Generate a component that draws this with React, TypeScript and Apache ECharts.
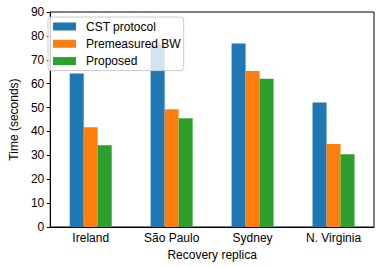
import React, { useEffect, useRef } from "react";
import * as echarts from "echarts";

const categories = ["Ireland", "São Paulo", "Sydney", "N. Virginia"];
const seriesNames = ["CST protocol", "Premeasured BW", "Proposed"];
const cstValues = [64.3, 76.2, 76.8, 52.1];
const premeasuredValues = [41.8, 49.3, 65.3, 34.7];
const proposedValues = [34.2, 45.5, 62.1, 30.5];
const colors = ["#1f77b4", "#ff7f0e", "#2ca02c"];

const FONT = "'Liberation Sans', Arial, sans-serif";

export default function App() {
  const ref = useRef<HTMLDivElement>(null);
  useEffect(() => {
    if (!ref.current) return;
    const chart = echarts.init(ref.current, null, { renderer: "svg" });
    const data = [cstValues, premeasuredValues, proposedValues];
    chart.setOption({
      animation: false,
      backgroundColor: "#ffffff",
      textStyle: { fontFamily: FONT },
      grid: {
        left: 42,
        right: 7,
        top: 12,
        bottom: 40,
        show: true,
        borderColor: "#000",
        borderWidth: 1,
        backgroundColor: "transparent",
      },
      legend: {
        orient: "vertical",
        left: 48,
        top: 17,
        padding: [3, 3, 3, 5],
        itemWidth: 23,
        itemHeight: 8,
        itemGap: 4.3,
        icon: "rect",
        backgroundColor: "rgba(255,255,255,0.8)",
        borderColor: "#cccccc",
        borderWidth: 1,
        borderRadius: 3,
        textStyle: {
          fontFamily: FONT,
          fontSize: 12,
          color: "#000",
          lineHeight: 13,
          padding: [0, 0, 0, 5],
        },
        data: seriesNames,
      },
      xAxis: {
        type: "category",
        data: categories,
        name: "Recovery replica",
        nameLocation: "middle",
        nameGap: 19,
        nameTextStyle: { fontFamily: FONT, fontSize: 12, color: "#000" },
        axisLine: { lineStyle: { color: "#000", width: 1 } },
        axisTick: { alignWithLabel: true, length: 3.5, lineStyle: { color: "#000" } },
        axisLabel: { fontFamily: FONT, fontSize: 12, color: "#000", margin: 5 },
        splitLine: { show: false },
      },
      yAxis: {
        type: "value",
        min: 0,
        max: 90,
        interval: 10,
        name: "Time (seconds)",
        nameLocation: "middle",
        nameRotate: 90,
        nameGap: 23,
        nameTextStyle: { fontFamily: FONT, fontSize: 12, color: "#000" },
        axisLine: { show: true, lineStyle: { color: "#000", width: 1 } },
        axisTick: { show: true, length: 3.5, lineStyle: { color: "#000" } },
        axisLabel: { fontFamily: FONT, fontSize: 12, color: "#000", margin: 6 },
        splitLine: { show: false },
      },
      series: seriesNames.map((name, i) => ({
        name,
        type: "bar",
        data: data[i],
        barWidth: 14,
        barGap: "0%",
        itemStyle: { color: colors[i] },
      })),
    });
    return () => chart.dispose();
  }, []);
  return (
    <div
      ref={ref}
      style={{ position: "fixed", left: 0, top: 0, width: 381, height: 267 }}
    />
  );
}
